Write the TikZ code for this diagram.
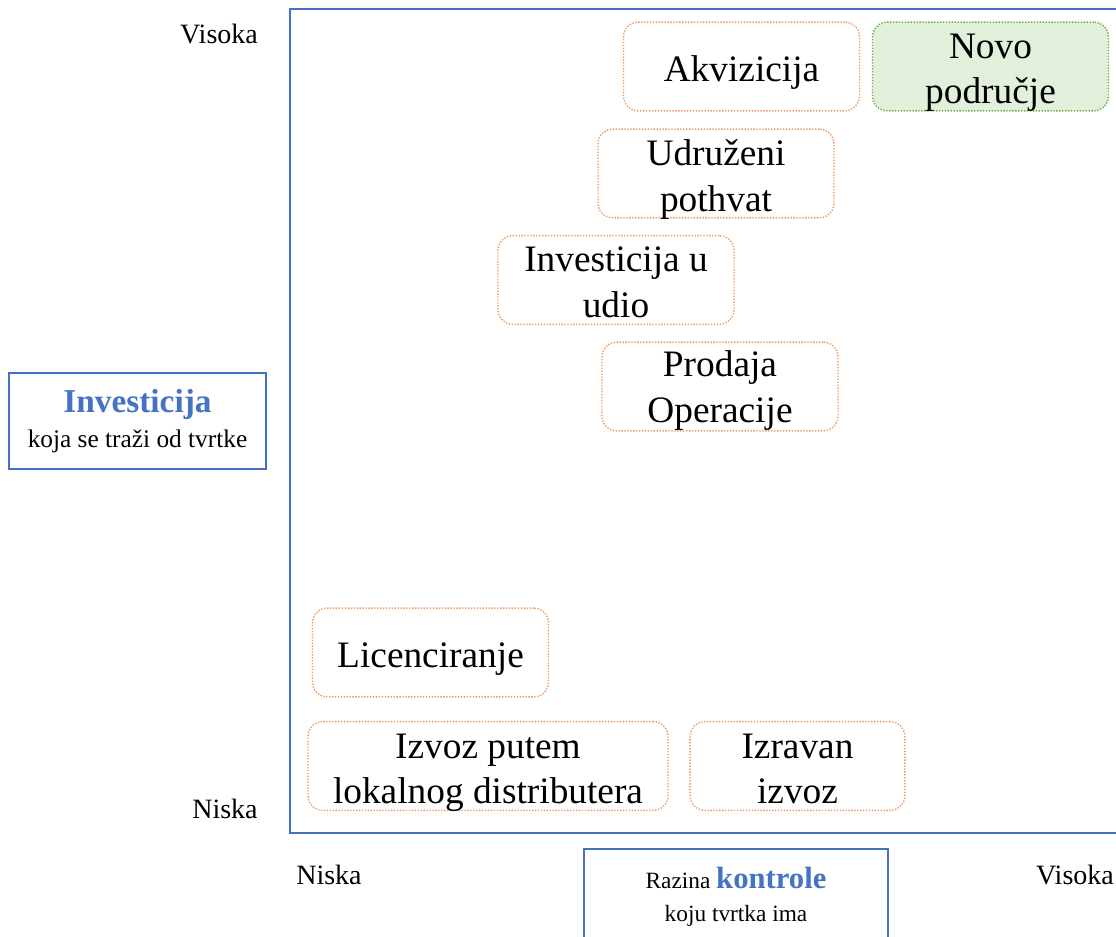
\documentclass[tikz,border=0pt]{standalone}
\usepackage{fontspec}
\setmainfont{Liberation Serif}
\definecolor{frameblue}{RGB}{68,114,196}
\definecolor{dotorange}{RGB}{240,150,90}
\definecolor{greenfill}{RGB}{226,239,218}
\definecolor{greenline}{RGB}{112,173,71}
\begin{document}
\begin{tikzpicture}[x=0.75pt,y=-0.75pt,
  optbox/.style={draw=dotorange, line width=1.05pt, dash pattern=on 1pt off 1.2pt,
    rounded corners=11pt, inner sep=0pt, minimum width=177pt, minimum height=66.5pt},
  newbox/.style={optbox, draw=greenline, fill=greenfill},
  boxtext/.style={font=\fontsize{28}{34}\selectfont, align=center, inner sep=0pt},
  axislabel/.style={font=\fontsize{21}{25}\selectfont, inner sep=0pt},
  titlebox/.style={draw=frameblue, line width=1pt},
  frame/.style={draw=frameblue, line width=1.1pt}
]
\clip (0,0) rectangle (1116,937);
\fill[white] (0,0) rectangle (1116,937);
\draw[frame] (290,9) rectangle (1130,833);

\node[optbox] (akv) at (741.5,66.5) {};
\node[boxtext] (akvt) at ([yshift=-4.5pt]akv.center) {Akvizicija};
\node[newbox] (novo) at (990.5,66.5) {};
\node[boxtext] (novot) at ([yshift=-4.5pt]novo.center) {Novo\\područje};
\node[optbox] (udr) at (716,173.5) {};
\node[boxtext] (udrt) at ([yshift=-4.5pt]udr.center) {Udruženi\\pothvat};
\node[optbox] (inv) at (616,280) {};
\node[boxtext] (invt) at ([yshift=-1.8pt]inv.center) {Investicija u\\udio};
\node[optbox] (prod) at (720,386.5) {};
\node[boxtext] (prodt) at ([yshift=-3pt]prod.center) {Prodaja\\Operacije};
\node[optbox] (lic) at (430.5,652.5) {};
\node[boxtext] (lict) at ([yshift=-5pt]lic.center) {Licenciranje};
\node[optbox, minimum width=270pt] (izvl) at (488,766) {};
\node[boxtext] (izvlt) at ([yshift=-5pt]izvl.center) {Izvoz putem\\lokalnog distributera};
\node[optbox, minimum width=161pt] (izr) at (797.5,766) {};
\node[boxtext] (izrt) at ([yshift=-2.2pt]izr.center) {Izravan\\izvoz};

\node[axislabel] (vy) at (219,34) {Visoka};
\node[axislabel] (ny) at (225,809) {Niska};
\node[axislabel] (nx) at (329,875) {Niska};
\node[axislabel] (vx) at (1075,875) {Visoka};

\node[titlebox, minimum width=192.75pt, minimum height=72pt] (ylab) at (137.5,421) {};
\node[align=center, inner sep=0pt, font=\fontsize{19}{26}\selectfont] (ylabt) at (137.5,421)
  {{\fontsize{25}{26}\selectfont\bfseries\color{frameblue}Investicija}\\
   koja se traži od tvrtke};

\draw[titlebox] (584,849) rectangle (888,990);
\node[align=center, inner sep=0pt, font=\fontsize{17.5}{25}\selectfont] (xlabt) at (736,897)
  {Razina {\fontsize{23}{25}\selectfont\bfseries\color{frameblue}kontrole}\\
   koju tvrtka ima};
\end{tikzpicture}
\end{document}
